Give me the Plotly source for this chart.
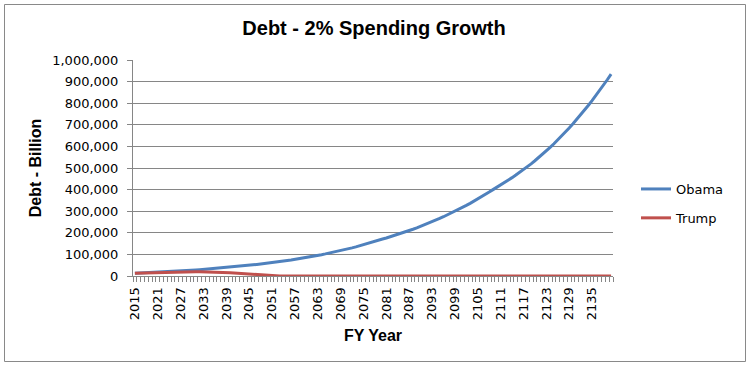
import plotly.graph_objects as go

years = list(range(2015, 2141))

obama = [
    13000, 13700, 14500, 15300, 16100, 17000,
    17700, 18500, 19300, 20100, 21000, 21900,
    22900, 24000, 25100, 26300, 27500, 28800, 30200, 31600, 33100, 34600, 36200, 37900, 39700, 41500,
    43000, 44600, 46300, 48000, 49800, 51600, 53600, 55500, 57600, 59700, 62000, 64300, 66700,
    69100, 71600, 74200, 76900, 79700, 82600, 85600, 88700, 91900, 95300, 98800,
    102300, 105900, 109600, 113500, 117500, 121600, 125900, 130300, 134900, 139600, 144500, 149600, 154900, 160300, 166000,
    171000, 176100, 181400, 186800, 192400, 198200, 204100, 210300, 216600, 223100, 229800, 236700, 243800, 251100, 258600, 266400, 274400, 282600, 291100, 299800,
    308600, 317600, 326900, 336400, 346300, 356400, 366800, 377500, 388500, 399900,
    410400, 421200, 432300, 443700, 455400, 467400, 479600, 492200, 505200,
    519200, 533600, 548400, 563600, 579200, 595200,
    612200, 629700, 647700, 666200, 685300, 704900, 725100, 745800, 767100, 789100, 811600, 834800, 858700, 883300, 908500, 934500,
]

trump = [
    13000, 13500, 14200, 15000, 15800, 16500, 17100, 17600, 18000, 18300,
    18600, 18800, 19000, 19100, 19200, 19200, 19200, 19100, 19000, 18800,
    18500, 18100, 17600, 16900, 16000, 14900, 13600, 12200, 10700, 9200,
    7800, 6500, 5300, 4200, 3200, 2300, 1400, 600,
] + [0] * 88

label_years = list(range(2015, 2141, 6))
label_text = [str(y) for y in label_years]
y_ticks = list(range(0, 1000001, 100000))

series_names = ["Obama", "Trump"]
series_colors = ["#4F81BD", "#C0504D"]

FONT = "DejaVu Sans"
GRID = "#868686"

fig = go.Figure()
for name, vals, col in zip(series_names, [obama, trump], series_colors):
    fig.add_trace(go.Scatter(
        x=years, y=vals, mode="lines", name=name, legendgroup=name,
        line=dict(color=col, width=3),
    ))

ML, MR, MT, MB = 133, 140, 60, 89
W, H = 753, 365
pw, ph = W - ML - MR, H - MT - MB

def px_x(x):
    return (x - ML) / pw

def px_y(y):
    return (H - MB - y) / ph

fig.update_layout(
    width=W, height=H,
    margin=dict(l=ML, r=MR, t=MT, b=MB, pad=0, autoexpand=False),
    paper_bgcolor="white", plot_bgcolor="white",
    font=dict(family=FONT, size=13, color="black"),
    title=dict(text="<b>Debt - 2% Spending Growth</b>", x=374 / W, xanchor="center",
               y=1 - 28 / H, yanchor="middle",
               font=dict(family="Liberation Sans", size=20, color="black")),
    showlegend=True,
    legend=dict(x=px_x(636), xanchor="left", y=px_y(174), yanchor="top",
                tracegroupgap=9, font=dict(family=FONT, size=13, color="black"),
                bgcolor="rgba(0,0,0,0)"),
    xaxis=dict(
        range=[2014.5, 2140.5], tickmode="array", tickvals=label_years, ticktext=label_text,
        tickangle=-90, ticks="outside", ticklen=5, tickcolor="rgba(0,0,0,0)",
        showgrid=False, zeroline=False, showline=True, linecolor=GRID, linewidth=1,
        minor=dict(tickmode="linear", tick0=2014.5, dtick=1, ticks="outside", ticklen=5,
                   tickcolor=GRID, showgrid=False),
        tickfont=dict(family=FONT, size=13, color="black"),
        title=dict(text="<b>FY Year</b>", standoff=10,
                   font=dict(family="Liberation Sans", size=16, color="black")),
    ),
    yaxis=dict(
        range=[0, 1000000], tickmode="array", tickvals=y_ticks, tickformat=",",
        ticks="outside", ticklen=5, tickcolor=GRID, ticklabelstandoff=6,
        showgrid=True, gridcolor=GRID, gridwidth=1, zeroline=False,
        showline=True, linecolor=GRID, linewidth=1,
        tickfont=dict(family=FONT, size=13, color="black"),
        title=dict(text="<b>Debt - Billion</b>", standoff=6,
                   font=dict(family="Liberation Sans", size=16, color="black")),
    ),
    shapes=[dict(type="rect", xref="paper", yref="paper",
                 x0=px_x(4.5), x1=px_x(745.5), y0=px_y(361.5), y1=px_y(4.5),
                 line=dict(color="#898989", width=1), fillcolor="rgba(0,0,0,0)", layer="below")],
)

fig.write_html("out.html", config={"displayModeBar": False},
               post_script="document.body.style.margin='0';")
